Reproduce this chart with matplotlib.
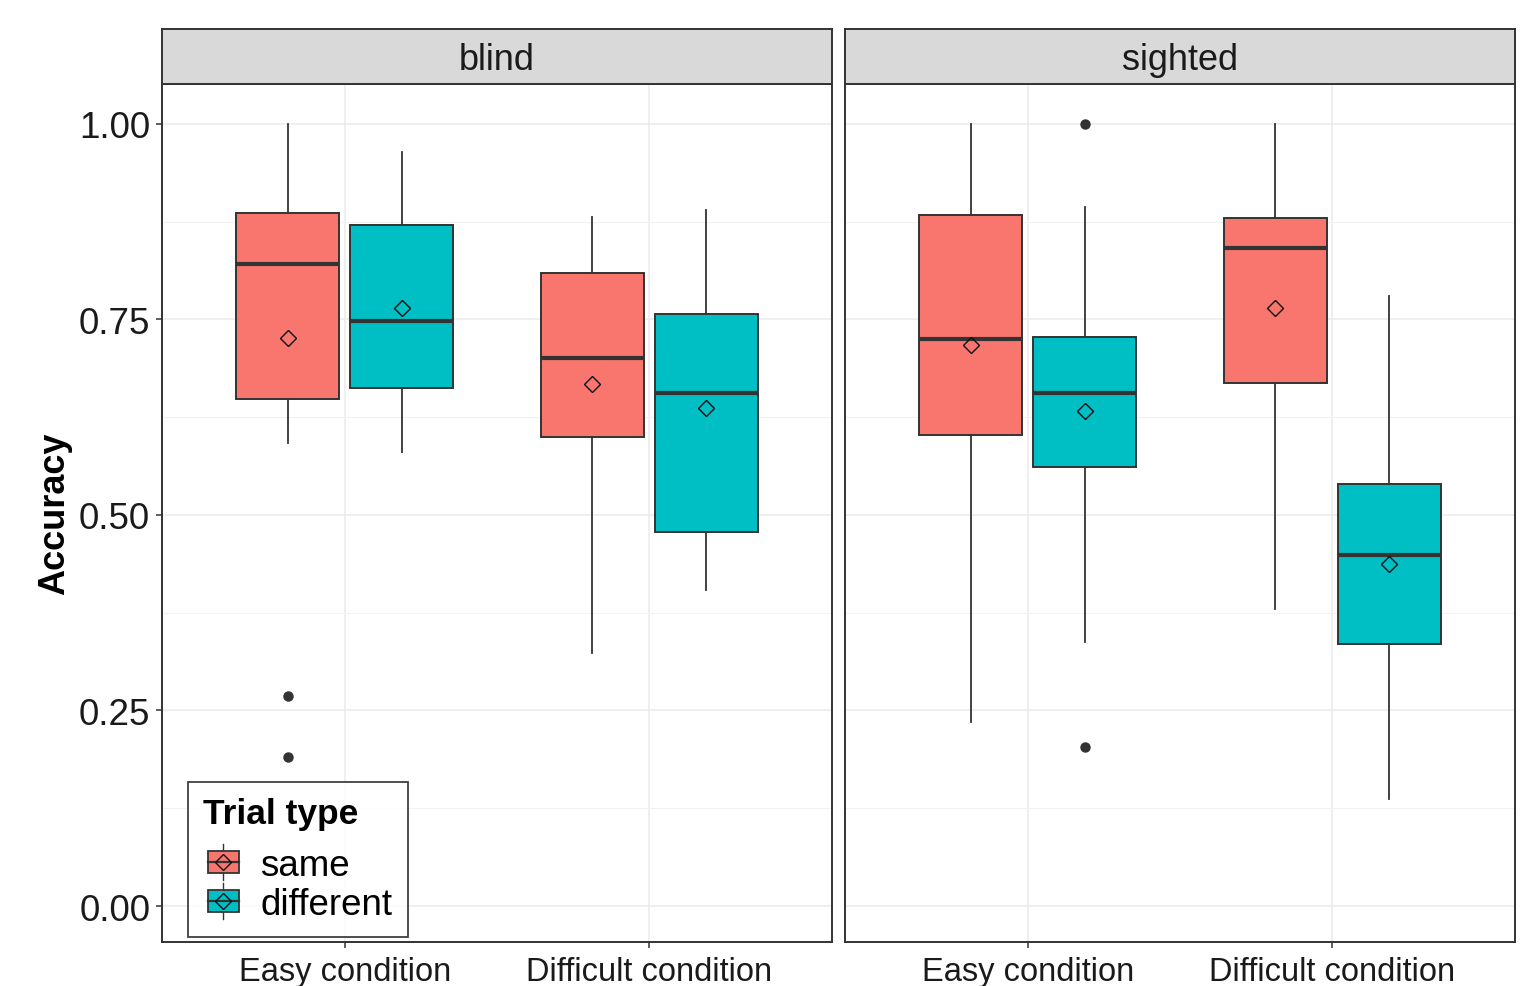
import matplotlib
matplotlib.use("Agg")
import matplotlib.pyplot as plt
from matplotlib.patches import Rectangle
from matplotlib.lines import Line2D
from matplotlib.legend_handler import HandlerBase
import numpy as np

plt.rcParams['font.family'] = ['Liberation Sans', 'DejaVu Sans']

groups = ["blind", "sighted"]
conditions = ["Easy condition", "Difficult condition"]
trial_types = ["same", "different"]
colors = {"same": "#F8766D", "different": "#00BFC4"}

# per group -> [condition][trial type]
whislo = {"blind": [[0.592, 0.581], [0.324, 0.404]],
          "sighted": [[0.235, 0.338], [0.380, 0.137]]}
q1 = {"blind": [[0.648, 0.662], [0.600, 0.478]],
      "sighted": [[0.602, 0.561], [0.669, 0.335]]}
med = {"blind": [[0.821, 0.748], [0.701, 0.656]],
       "sighted": [[0.725, 0.656], [0.841, 0.449]]}
q3 = {"blind": [[0.886, 0.871], [0.809, 0.757]],
      "sighted": [[0.884, 0.728], [0.880, 0.540]]}
whishi = {"blind": [[1.000, 0.964], [0.881, 0.890]],
          "sighted": [[1.000, 0.894], [1.000, 0.780]]}
means = {"blind": [[0.726, 0.765], [0.668, 0.637]],
         "sighted": [[0.717, 0.633], [0.765, 0.437]]}
fliers = {"blind": [[[0.269, 0.190], []], [[], []]],
          "sighted": [[[], [1.000, 0.203]], [[], []]]}

yticks = [0.00, 0.25, 0.50, 0.75, 1.00]
ytick_labels = ["0.00", "0.25", "0.50", "0.75", "1.00"]

W, H = 1524, 987
fig = plt.figure(figsize=(W / 100, H / 100), dpi=100)

edge = "#333333"
txt = "#1a1a1a"

panel_x = [162, 845]
panel_w = 670
panel_top, panel_bot = 85, 943
strip_top = 30

axes = []
for gi, g in enumerate(groups):
    ax = fig.add_axes([panel_x[gi] / W, (H - panel_bot) / H, panel_w / W, (panel_bot - panel_top) / H])
    axes.append(ax)

    for ci in range(len(conditions)):
        for ti, t in enumerate(trial_types):
            pos = (ci + 1) + (-0.1875 if ti == 0 else 0.1875)
            st = dict(med=med[g][ci][ti], q1=q1[g][ci][ti], q3=q3[g][ci][ti],
                      whislo=whislo[g][ci][ti], whishi=whishi[g][ci][ti],
                      mean=means[g][ci][ti], fliers=fliers[g][ci][ti])
            bp = ax.bxp([st], positions=[pos], widths=0.3375, patch_artist=True,
                        showmeans=True, showcaps=False, manage_ticks=False,
                        boxprops=dict(facecolor=colors[t], edgecolor=edge, linewidth=1.4),
                        medianprops=dict(color=edge, linewidth=3.0),
                        whiskerprops=dict(color=edge, linewidth=1.3),
                        flierprops=dict(marker="o", markerfacecolor=edge, markeredgecolor=edge,
                                        markersize=6.5, linestyle="none"),
                        meanprops=dict(marker="D", markerfacecolor="none", markeredgecolor="#111111",
                                       markersize=8.5, markeredgewidth=1.0))
            for b in bp["boxes"]:
                b.set_zorder(3)
            for m in bp["medians"]:
                m.set_zorder(4)
            for m in bp["means"]:
                m.set_zorder(5)
            for w in bp["whiskers"]:
                w.set_zorder(2.5)

    ax.set_xlim(0.4, 2.6)
    ax.set_ylim(-0.046, 1.051)
    ax.set_yticks(yticks)
    ax.set_yticks([0.125, 0.375, 0.625, 0.875], minor=True)
    ax.set_xticks([1, 2])
    ax.set_xticklabels(conditions, fontsize=23.5, color=txt)
    ax.grid(True, which="major", color="#EBEBEB", lw=1.1, zorder=0)
    ax.grid(True, which="minor", axis="y", color="#F2F2F2", lw=0.8, zorder=0)
    ax.set_axisbelow(True)
    for s in ax.spines.values():
        s.set_color(edge)
        s.set_linewidth(1.4)
    ax.tick_params(axis="both", which="major", length=4, width=1.1, color=edge)
    ax.tick_params(axis="x", which="major", pad=6)
    ax.tick_params(axis="y", which="major", pad=4.5)
    ax.tick_params(axis="both", which="minor", length=0)
    if gi == 0:
        ax.set_yticklabels(ytick_labels, fontsize=26.5, color=txt)
        ax.set_ylabel("Accuracy", fontsize=26, fontweight="bold", labelpad=5, color="black")
    else:
        ax.set_yticklabels([])
        ax.tick_params(axis="y", which="major", length=0)

    # strip
    sax = fig.add_axes([panel_x[gi] / W, (H - panel_top) / H, panel_w / W, (panel_top - strip_top) / H])
    sax.set_facecolor("#D9D9D9")
    sax.set_xticks([])
    sax.set_yticks([])
    for s in sax.spines.values():
        s.set_color(edge)
        s.set_linewidth(1.4)
    sax.text(0.5, 0.45, g, ha="center", va="center", fontsize=26, color=txt,
             transform=sax.transAxes)


class BoxKeyHandler(HandlerBase):
    def __init__(self, color):
        super().__init__()
        self.color = color

    def create_artists(self, legend, orig_handle, xdescent, ydescent, width, height, fontsize, trans):
        cx = width / 2 - xdescent + 3
        cy = height / 2 - ydescent
        bw, bh = width, height * 0.72
        rect = Rectangle((cx - bw / 2, cy - bh / 2), bw, bh, facecolor=self.color,
                         edgecolor=edge, linewidth=1.3, transform=trans)
        wl = Line2D([cx, cx], [cy - height * 0.6, cy + height * 0.6], color=edge, lw=1.0, transform=trans)
        ml = Line2D([cx - bw / 2, cx + bw / 2], [cy, cy], color=edge, lw=1.6, transform=trans)
        dm = Line2D([cx], [cy], marker="D", markerfacecolor="none", markeredgecolor="#111111",
                    markersize=8, markeredgewidth=1.0, transform=trans)
        return [wl, rect, ml, dm]


handles = [Rectangle((0, 0), 1, 1, label=t) for t in trial_types]
leg = axes[0].legend(handles, trial_types, title="Trial type", loc="lower left",
                     bbox_to_anchor=((188 - 162) / panel_w, (943 - 938) / (943 - 85)),
                     borderaxespad=0, fontsize=26.5, title_fontsize=25.5,
                     handler_map={handles[0]: BoxKeyHandler(colors["same"]),
                                  handles[1]: BoxKeyHandler(colors["different"])},
                     frameon=True, fancybox=False, edgecolor="#111111",
                     handlelength=0.85, handleheight=0.9, handletextpad=0.7,
                     labelspacing=0.08, borderpad=0.42, alignment="left")
leg._legend_box.sep = 12
leg.get_frame().set_linewidth(1.3)
leg.get_title().set_fontweight("bold")
leg.set_zorder(10)

fig.savefig("out.png", dpi=100, facecolor="white")
